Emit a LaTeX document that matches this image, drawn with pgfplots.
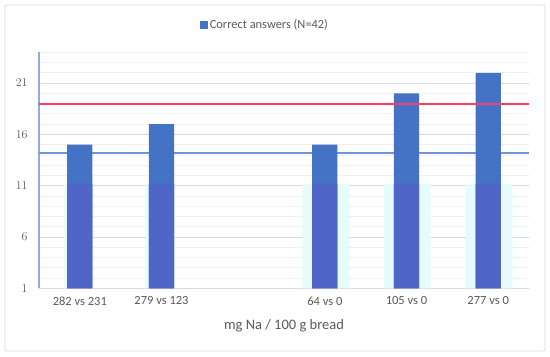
\documentclass[border=0pt]{standalone}
\usepackage{pgfplots}
\pgfplotsset{compat=1.18}
\usepackage{fontspec}
\setmainfont{Carlito}
\definecolor{barblue}{RGB}{68,114,196}
\definecolor{barpurple}{RGB}{80,102,198}
\definecolor{barcyan}{RGB}{230,252,252}
\definecolor{txt}{RGB}{89,89,89}
\definecolor{gridmaj}{RGB}{217,217,217}
\definecolor{gridmin}{RGB}{240,240,240}
\definecolor{axblue}{RGB}{143,170,220}
\definecolor{refred}{RGB}{255,60,100}
\definecolor{refblue}{RGB}{110,150,215}
\begin{document}
\begin{tikzpicture}
\path[use as bounding box] (0,0) rectangle (550bp,357bp);
\draw[gridmaj, rounded corners=2bp, line width=0.8bp] (5bp,6bp) rectangle (545bp,352bp);
\begin{axis}[
  at={(39bp,68.7bp)}, anchor=south west,
  scale only axis, width=490bp, height=236bp,
  xmin=-0.5, xmax=5.5, ymin=1, ymax=24,
  xtick={0,1,2,3,4,5},
  xticklabels={282 vs 231,279 vs 123,,64 vs 0,105 vs 0,277 vs 0},
  ytick={1,6,11,16,21},
  minor ytick={2,3,4,5,7,8,9,10,12,13,14,15,17,18,19,20,22,23,24},
  ymajorgrids, yminorgrids,
  major grid style={gridmaj, line width=0.8bp},
  minor grid style={gridmin, line width=0.8bp},
  major tick length=0pt, minor tick length=0pt,
  axis x line*=bottom, axis y line*=left,
  x axis line style={draw=gridmaj, line width=0.8bp, -},
  y axis line style={draw=axblue, line width=1.2bp, -},
  tick label style={font=\fontsize{12.5bp}{14bp}\selectfont, text=txt},
  xticklabel shift=5bp, yticklabel shift=8bp,
  xlabel={mg Na / 100 g bread},
  xlabel style={at={(axis description cs:0.5,0)}, anchor=center, yshift=-37.4bp, font=\fontsize{14.5bp}{16bp}\selectfont, text=txt},
  legend style={at={(0.461,1.116)}, anchor=center, draw=none, fill=none, font=\fontsize{12.4bp}{14bp}\selectfont, text=txt, inner sep=1bp},
  legend image code/.code={\fill[barblue] (0bp,-4bp) rectangle (8bp,4bp);},
]
% reference blue line behind bars
\addplot[forget plot, color=refblue, mark=none, line width=1.3bp] coordinates {(-0.5,14.2) (5.5,14.2)};
% cyan background bars
\addplot[forget plot, ybar, bar width=0.35, bar shift=-0.015, fill=barcyan, draw=none] coordinates {(0,11.2) (1,11.2)};
\addplot[forget plot, ybar, bar width=0.57, bar shift=0.01, fill=barcyan, draw=none] coordinates {(3,11.2) (4,11.2) (5,11.2)};
% main bars
\addplot[ybar, bar width=0.31, bar shift=0, fill=barblue, draw=none] coordinates {(0,15) (1,17) (3,15) (4,20) (5,22)};
\addlegendentry{Correct answers (N=42)}
% purple overlay portion
\addplot[forget plot, ybar, bar width=0.31, bar shift=0, fill=barpurple, draw=none] coordinates {(0,11.2) (1,11.2) (3,11.2) (4,11.2) (5,11.2)};
% red reference line on top
\addplot[forget plot, color=refred, mark=none, line width=2.2bp] coordinates {(-0.5,19) (5.5,19)};
\end{axis}
\end{tikzpicture}
\end{document}
